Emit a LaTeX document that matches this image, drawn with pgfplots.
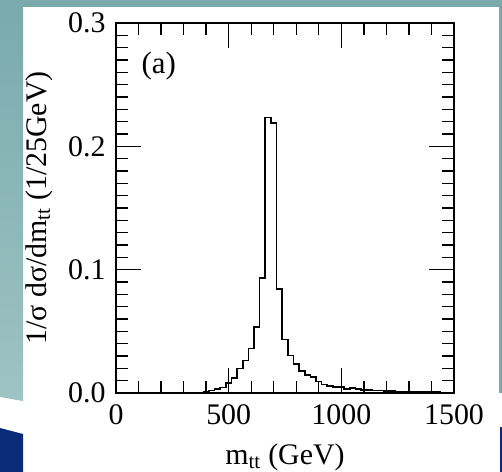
\documentclass[border=0pt]{standalone}
\usepackage{fontspec}
\setmainfont{Liberation Serif}
\usepackage{pgfplots}
\pgfplotsset{compat=1.18}
\definecolor{teal1}{RGB}{122,170,172}
\definecolor{teal2}{RGB}{158,195,196}
\definecolor{navy1}{RGB}{10,44,120}
\begin{document}
\begin{tikzpicture}[x=1bp,y=1bp]
\useasboundingbox (0,0) rectangle (502,472);
\fill[white] (0,0) rectangle (502,472);
\fill[teal1] (0,465) rectangle (502,472);
\shade[top color=teal1,bottom color=teal2] (0,75) -- (23,71) -- (23,472) -- (0,472) -- cycle;
\fill[teal1] (499,79) rectangle (502,472);
\fill[navy1] (0,0) -- (0,44) -- (23,38) -- (23,0) -- cycle;
\fill[navy1] (500,0) rectangle (502,45);
\begin{axis}[
  at={(116bp,79bp)}, anchor=south west,
  scale only axis, width=338bp, height=370bp,
  xmin=0, xmax=1500, ymin=0, ymax=0.3,
  xtick={0,500,1000,1500}, ytick={0,0.1,0.2,0.3},
  minor x tick num=4, minor y tick num=9,
  major tick length=25bp, minor tick length=12bp,
  tick style={black, line width=1.3pt},
  axis line style={line width=1.6pt},
  scaled ticks=false,
  /pgf/number format/assume math mode=true,
  tick label style={font=\fontsize{30}{30}\selectfont},
  xticklabel style={/pgf/number format/1000 sep={}, yshift=-8bp},
  yticklabel style={/pgf/number format/.cd, fixed, fixed zerofill, precision=1, /tikz/.cd, xshift=-7bp},
  label style={font=\fontsize{30}{30}\selectfont},
  xlabel={m\textsubscript{tt} (GeV)},
  ylabel={1/σ dσ/dm\textsubscript{tt} (1/25GeV)},
  xlabel style={at={(axis description cs:0.5,-0.175)}, anchor=center},
  ylabel style={at={(axis description cs:-0.228,0.5)}, anchor=center},
]
\addplot[const plot, black, line width=1.6pt] coordinates {
(0,0) (362.5,0.0003) (387.5,0.0008) (412.5,0.0019) (437.5,0.0030)
(462.5,0.0043) (487.5,0.0080) (512.5,0.0121) (537.5,0.0198)
(562.5,0.0265) (587.5,0.0360) (612.5,0.0537) (637.5,0.0930)
(662.5,0.2234) (687.5,0.2187) (712.5,0.0845) (737.5,0.0435)
(762.5,0.0303) (787.5,0.0236) (812.5,0.0180) (837.5,0.0145)
(862.5,0.0130) (887.5,0.0092) (912.5,0.0070) (937.5,0.0056)
(962.5,0.0050) (987.5,0.0050) (1012.5,0.0032) (1037.5,0.0040)
(1062.5,0.0030) (1087.5,0.0025) (1112.5,0.0024) (1137.5,0.0020)
(1162.5,0.0019) (1187.5,0.0016) (1212.5,0.0016) (1237.5,0.0012)
(1262.5,0.0011) (1287.5,0.0010) (1312.5,0.0009) (1337.5,0.0008)
(1362.5,0.0008) (1387.5,0.0007) (1412.5,0.0006) (1437.5,0.0005)
(1462.5,0.0005) (1487.5,0.0005) (1500,0.0005)
};
\node[font=\fontsize{31}{31}\selectfont] at (axis cs:190,0.265) {(a)};
\end{axis}
\end{tikzpicture}
\end{document}
